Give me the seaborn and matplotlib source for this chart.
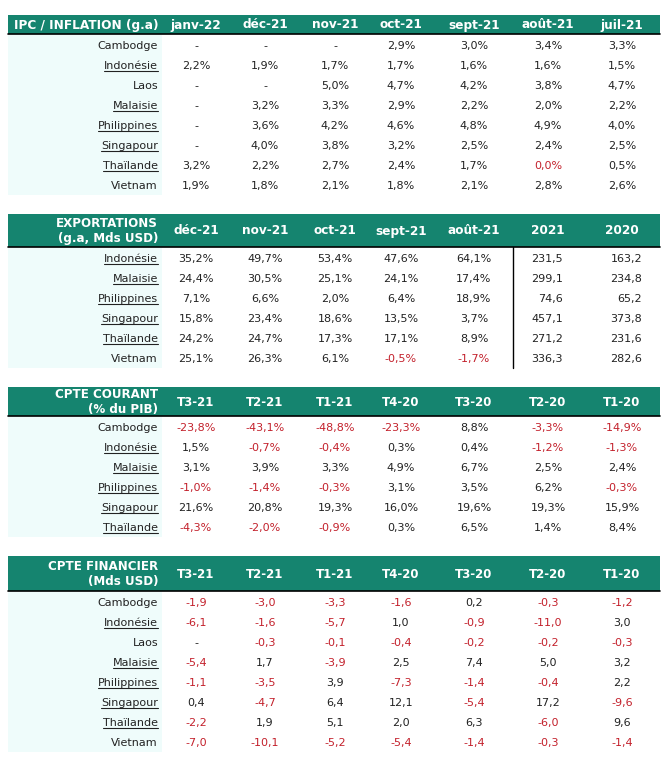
import matplotlib
matplotlib.use("Agg")
import matplotlib.pyplot as plt
import seaborn as sns
from matplotlib.patches import Rectangle

# --- data -------------------------------------------------------------
ipc_cols = ["janv-22", "déc-21", "nov-21", "oct-21", "sept-21", "août-21", "juil-21"]
ipc_rows = ["Cambodge", "Indonésie", "Laos", "Malaisie", "Philippines", "Singapour", "Thaïlande", "Vietnam"]
ipc_vals = [
    [None, None, None, 2.9, 3.0, 3.4, 3.3],
    [2.2, 1.9, 1.7, 1.7, 1.6, 1.6, 1.5],
    [None, None, 5.0, 4.7, 4.2, 3.8, 4.7],
    [None, 3.2, 3.3, 2.9, 2.2, 2.0, 2.2],
    [None, 3.6, 4.2, 4.6, 4.8, 4.9, 4.0],
    [None, 4.0, 3.8, 3.2, 2.5, 2.4, 2.5],
    [3.2, 2.2, 2.7, 2.4, 1.7, 0.0, 0.5],
    [1.9, 1.8, 2.1, 1.8, 2.1, 2.8, 2.6],
]
ipc_red = [(6, 5)]  # shown red in the source although it reads 0,0%

exp_cols = ["déc-21", "nov-21", "oct-21", "sept-21", "août-21", "2021", "2020"]
exp_rows = ["Indonésie", "Malaisie", "Philippines", "Singapour", "Thaïlande", "Vietnam"]
exp_growth = [
    [35.2, 49.7, 53.4, 47.6, 64.1],
    [24.4, 30.5, 25.1, 24.1, 17.4],
    [7.1, 6.6, 2.0, 6.4, 18.9],
    [15.8, 23.4, 18.6, 13.5, 3.7],
    [24.2, 24.7, 17.3, 17.1, 8.9],
    [25.1, 26.3, 6.1, -0.5, -1.7],
]
exp_2021 = [231.5, 299.1, 74.6, 457.1, 271.2, 336.3]
exp_2020 = [163.2, 234.8, 65.2, 373.8, 231.6, 282.6]

quarters = ["T3-21", "T2-21", "T1-21", "T4-20", "T3-20", "T2-20", "T1-20"]
cc_rows = ["Cambodge", "Indonésie", "Malaisie", "Philippines", "Singapour", "Thaïlande"]
cc_vals = [
    [-23.8, -43.1, -48.8, -23.3, 8.8, -3.3, -14.9],
    [1.5, -0.7, -0.4, 0.3, 0.4, -1.2, -1.3],
    [3.1, 3.9, 3.3, 4.9, 6.7, 2.5, 2.4],
    [-1.0, -1.4, -0.3, 3.1, 3.5, 6.2, -0.3],
    [21.6, 20.8, 19.3, 16.0, 19.6, 19.3, 15.9],
    [-4.3, -2.0, -0.9, 0.3, 6.5, 1.4, 8.4],
]

cf_rows = ["Cambodge", "Indonésie", "Laos", "Malaisie", "Philippines", "Singapour", "Thaïlande", "Vietnam"]
cf_vals = [
    [-1.9, -3.0, -3.3, -1.6, 0.2, -0.3, -1.2],
    [-6.1, -1.6, -5.7, 1.0, -0.9, -11.0, 3.0],
    [None, -0.3, -0.1, -0.4, -0.2, -0.2, -0.3],
    [-5.4, 1.7, -3.9, 2.5, 7.4, 5.0, 3.2],
    [-1.1, -3.5, 3.9, -7.3, -1.4, -0.4, 2.2],
    [0.4, -4.7, 6.4, 12.1, -5.4, 17.2, -9.6],
    [-2.2, 1.9, 5.1, 2.0, 6.3, -6.0, 9.6],
    [-7.0, -10.1, -5.2, -5.4, -1.4, -0.3, -1.4],
]

linked = {"Indonésie", "Malaisie", "Philippines", "Singapour", "Thaïlande"}

# --- style ------------------------------------------------------------
sns.set_theme(style="white")
plt.rcParams["font.family"] = ["DejaVu Sans"]

GREEN = "#15846f"
PALE = "#effcfb"
RED = "#c3212c"
INK = "#222222"
FS = 8

col_x = [196, 265, 335, 401, 474, 548, 622]
LEFT, RIGHT, LABEL_X, PALE_R = 8, 660, 158, 162

fig = plt.figure(figsize=(6.71, 7.68), dpi=100)
ax = fig.add_axes([0, 0, 1, 1])
ax.set_xlim(0, 671)
ax.set_ylim(768, 0)
ax.axis("off")
renderer = fig.canvas.get_renderer()


def fmt(v, pct):
    if v is None:
        return "-"
    s = f"{v:.1f}".replace(".", ",")
    return s + "%" if pct else s


def row_label(name, y):
    t = ax.text(LABEL_X, y, name, ha="right", va="center_baseline", fontsize=FS, color=INK)
    if name in linked:
        bb = t.get_window_extent(renderer).transformed(ax.transData.inverted())
        ax.plot([bb.x0, bb.x1], [y + 5.5, y + 5.5], color=INK, lw=0.8)


def frame(top, hbot, bottom, title, cols, tfs, cfs, ls=1.12):
    ax.add_patch(Rectangle((LEFT, top), RIGHT - LEFT, hbot - top, color=GREEN, lw=0))
    ax.add_patch(Rectangle((LEFT, hbot), PALE_R - LEFT, bottom - hbot, color=PALE, lw=0))
    ax.plot([LEFT, RIGHT], [hbot, hbot], color="black", lw=1.2)
    ym = (top + hbot) / 2
    ax.text(LABEL_X, ym + 0.5, title, ha="right", va="center", fontsize=tfs,
            fontweight="bold", color="white", linespacing=ls)
    for x, c in zip(col_x, cols):
        ax.text(x, ym + 0.5, c, ha="center", va="center", fontsize=cfs,
                fontweight="bold", color="white")


def body(row0, rows, vals, pct, red_cells=()):
    for i, (name, line) in enumerate(zip(rows, vals)):
        y = row0 + 20 * i
        row_label(name, y)
        for j, v in enumerate(line):
            red = (v is not None and v < 0) or (i, j) in red_cells
            ax.text(col_x[j], y, fmt(v, pct), ha="center", va="center_baseline",
                    fontsize=FS, color=RED if red else INK)


# IPC / inflation
frame(15, 34, 195, "IPC / INFLATION (g.a)", ipc_cols, 8.7, 8.7)
body(45, ipc_rows, ipc_vals, True, ipc_red)

# Exportations
frame(214, 247, 368, "EXPORTATIONS\n(g.a, Mds USD)", exp_cols, 8.6, 8.7)
body(258, exp_rows, exp_growth, True)
for i, (a, b) in enumerate(zip(exp_2021, exp_2020)):
    y = 258 + 20 * i
    ax.text(563, y, fmt(a, False), ha="right", va="center_baseline", fontsize=FS, color=INK)
    ax.text(642, y, fmt(b, False), ha="right", va="center_baseline", fontsize=FS, color=INK)
ax.plot([513, 513], [247, 368], color="black", lw=1)

# Compte courant
frame(387, 416, 537, "CPTE COURANT\n(% du PIB)", quarters, 8.6, 8.5, ls=1.2)
body(427, cc_rows, cc_vals, True)

# Compte financier
frame(556, 591, 752, "CPTE FINANCIER\n(Mds USD)", quarters, 8.6, 8.5, ls=1.3)
body(602, cf_rows, cf_vals, False)

fig.savefig("out.png", dpi=100, facecolor="white")
